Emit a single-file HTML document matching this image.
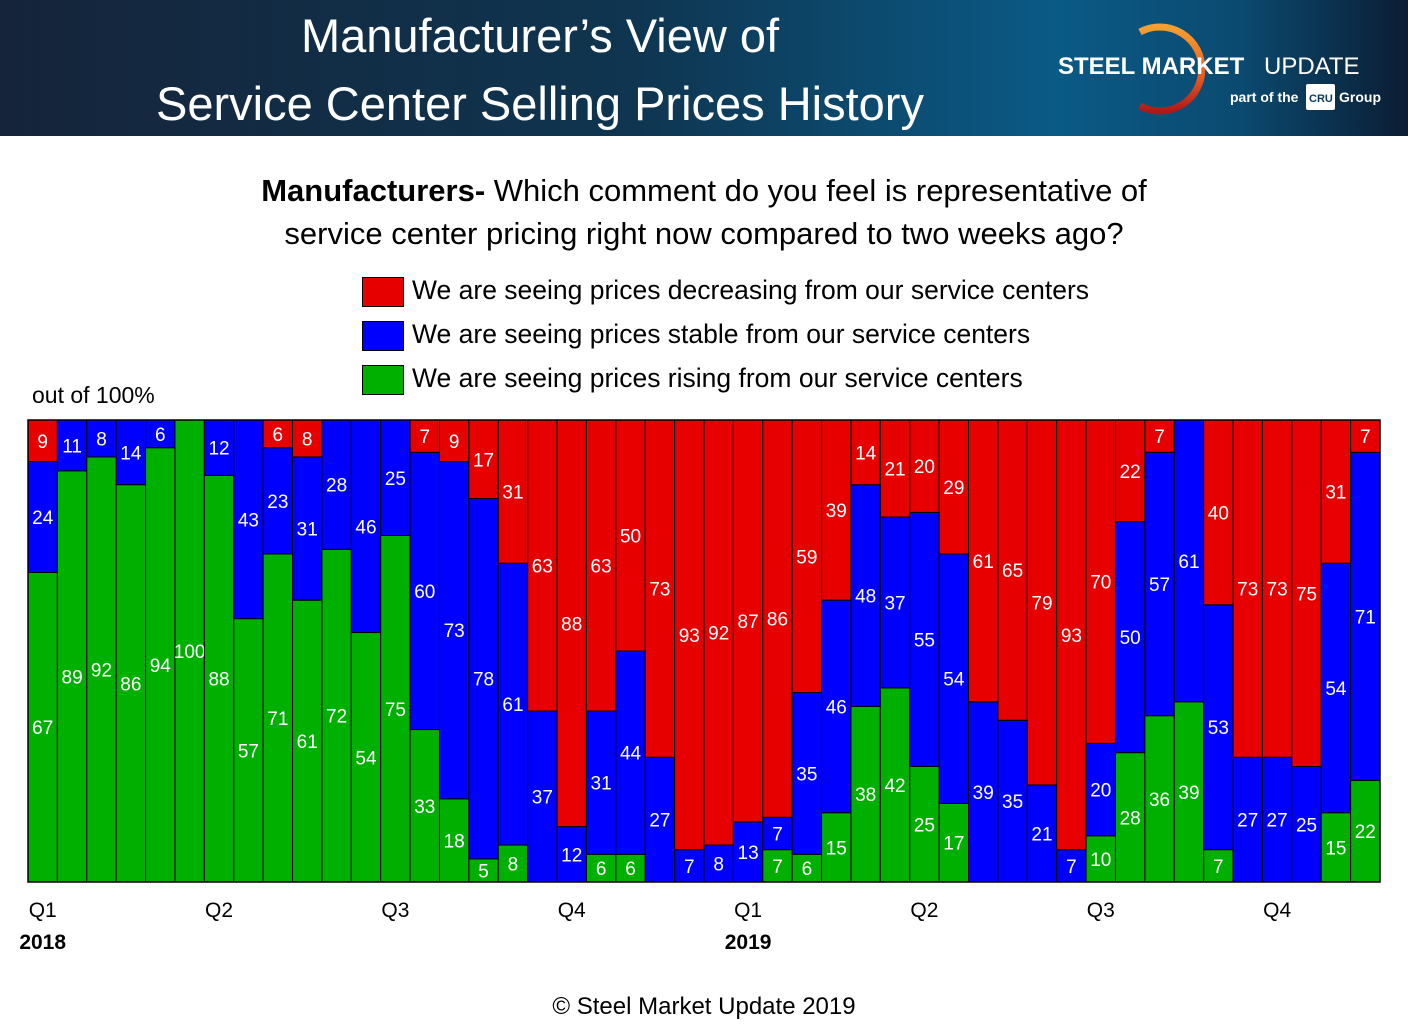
<!DOCTYPE html>
<html><head><meta charset="utf-8"><style>
body{margin:0;width:1408px;height:1024px;background:#fff;font-family:"Liberation Sans",sans-serif;overflow:hidden;position:relative}
.hdr{position:absolute;left:0;top:0;width:1408px;height:136px;background:linear-gradient(90deg,#15243a 0%,#0f3550 45%,#0a5a86 75%,#0b4a70 88%,#0b1d33 100%)}
.title{position:absolute;left:60px;width:960px;text-align:center;color:#fff;font-size:47px;line-height:68px;top:2px}
.q{position:absolute;left:0;width:1408px;text-align:center;font-size:31px;line-height:43px;top:169px}
.leg{position:absolute;left:362px;font-size:26.5px}
.leg span{display:inline-block;width:42px;height:30px;border:1.5px solid #000;vertical-align:middle;margin-right:8px;box-sizing:border-box}
svg text{font-family:"Liberation Sans",sans-serif}
</style></head><body>
<div class="hdr"></div>
<div class="title">Manufacturer’s View of<br>Service Center Selling Prices History</div>
<svg style="position:absolute;left:1040px;top:10px" width="368" height="120">
<defs><linearGradient id="og" x1="0" y1="0" x2="0" y2="1"><stop offset="0" stop-color="#f5a030"/><stop offset="0.6" stop-color="#e85a20"/><stop offset="1" stop-color="#b01818"/></linearGradient></defs>
<path d="M70,22 A42,42 0 1 1 70,96" fill="none" stroke="url(#og)" stroke-width="7" transform="translate(30,0)"/>
<text x="18" y="64" fill="#fff" font-size="24" font-weight="bold">STEEL MARKET</text>
<text x="224" y="64" fill="#fff" font-size="24">UPDATE</text>
<text x="190" y="92" fill="#fff" font-size="14" font-weight="bold">part of the</text>
<rect x="266" y="74" width="29" height="26" fill="#fff" rx="2"/>
<text x="269" y="92" fill="#0b3a5c" font-size="11" font-weight="bold">CRU</text>
<text x="299" y="92" fill="#fff" font-size="14" font-weight="bold">Group</text>
</svg>
<div class="q"><b>Manufacturers-</b> Which comment do you feel is representative of<br>service center pricing right now compared to two weeks ago?</div>
<div class="leg" style="top:275px"><span style="background:#e60000"></span>We are seeing prices decreasing from our service centers</div>
<div class="leg" style="top:319px"><span style="background:#0000ff"></span>We are seeing prices stable from our service centers</div>
<div class="leg" style="top:363px"><span style="background:#00b000"></span>We are seeing prices rising from our service centers</div>
<div style="position:absolute;left:32px;top:382px;font-size:23px">out of 100%</div>
<div style="position:absolute;left:0;width:1408px;text-align:center;top:993px;font-size:24px">© Steel Market Update 2019</div>
<svg id="ch" style="position:absolute;left:0;top:0" width="1408" height="1024"></svg>
<script>
const rising=[67,89,92,86,94,100,88,57,71,61,72,54,75,33,18,5,8,0,0,6,6,0,0,0,0,7,6,15,38,42,25,17,0,0,0,0,10,28,36,39,7,0,0,0,15,22];
const stable=[24,11,8,14,6,0,12,43,23,31,28,46,25,60,73,78,61,37,12,31,44,27,7,8,13,7,35,46,48,37,55,54,39,35,21,7,20,50,57,61,53,27,27,25,54,71];
const decreasing=[9,0,0,0,0,0,0,0,6,8,0,0,0,7,9,17,31,63,88,63,50,73,93,92,87,86,59,39,14,21,20,29,61,65,79,93,70,22,7,0,40,73,73,75,31,7];
const quarterLabels=["Q1","Q2","Q3","Q4","Q1","Q2","Q3","Q4"];
const quarterIdx=[0,6,12,18,24,30,36,42];
const yearLabels=[["2018",0],["2019",24]];
const svg=document.getElementById('ch'),NS="http://www.w3.org/2000/svg";
const X0=28,X1=1380,Y0=420,Y1=882,n=rising.length,bw=(X1-X0)/n;
const xs=i=>X0+i*bw, ys=v=>Y1-v/100*(Y1-Y0);
function el(t,a){const e=document.createElementNS(NS,t);for(const k in a)e.setAttribute(k,a[k]);svg.appendChild(e);return e;}
const series=[[rising,"#00b000","rising"],[stable,"#0000ff","stable"],[decreasing,"#e60000","decreasing"]];
for(let i=0;i<n;i++){let base=0;
 for(const [arr,col,nm] of series){const v=arr[i];if(!v)continue;
  const r=el('rect',{x:xs(i),y:ys(base+v),width:bw,height:ys(base)-ys(base+v),fill:col,stroke:"#000","stroke-width":1});
  
  
  const t=el('text',{x:xs(i)+bw/2,y:(ys(base)+ys(base+v))/2+7,fill:"#fff","font-size":19,"text-anchor":"middle"});
  t.textContent=v;
  
  
  base+=v;}
}
const fr=el('rect',{x:X0,y:Y0,width:X1-X0,height:Y1-Y0,fill:"none",stroke:"#000","stroke-width":1.5});


quarterLabels.forEach((q,k)=>{const t=el('text',{x:xs(quarterIdx[k])+bw/2,y:917,"font-size":21,"text-anchor":"middle"});t.textContent=q;
 
 });
yearLabels.forEach(([y,i])=>{const t=el('text',{x:xs(i)+bw/2,y:949,"font-size":21,"font-weight":"bold","text-anchor":"middle"});t.textContent=y;
 
 });
</script>
</body></html>
